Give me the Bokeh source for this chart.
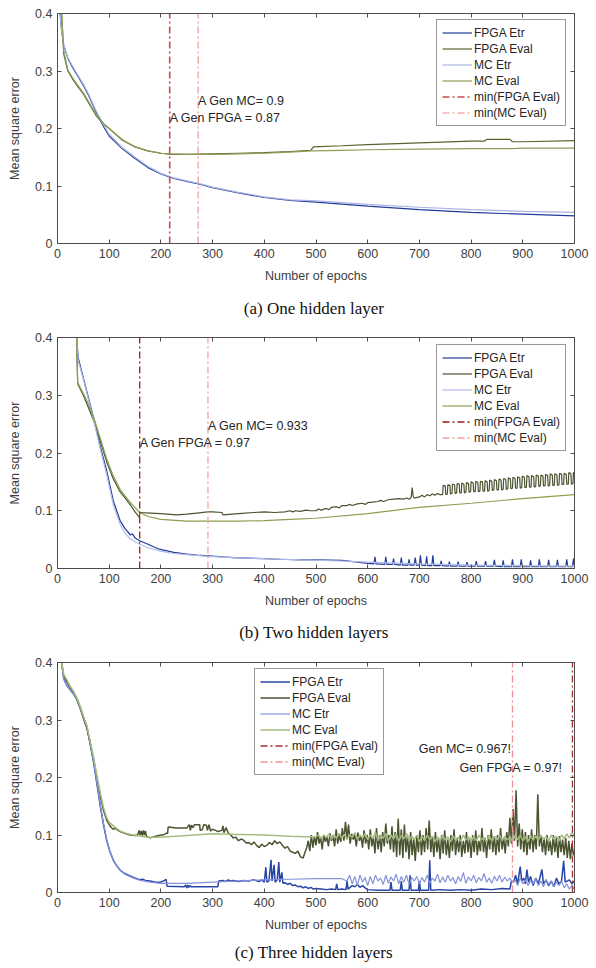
from bokeh.plotting import figure
from bokeh.models import LinearAxis, Range1d, Label, Title
from bokeh.layouts import column
from bokeh.embed import file_html
from bokeh.resources import INLINE

# ---------------- data: panel (a) one hidden layer ----------------
a_etr_ep = [5, 8, 12, 20, 30, 40, 50, 60, 75, 90, 100, 125, 150, 175, 200, 225, 250, 275, 300, 350, 400, 450, 500, 600, 700, 800, 900, 1000]
a_fpga_etr = [0.40, 0.37, 0.345, 0.322, 0.305, 0.29, 0.275, 0.258, 0.228, 0.202, 0.187, 0.165, 0.148, 0.132, 0.121, 0.113, 0.108, 0.103, 0.097, 0.088, 0.080, 0.075, 0.072, 0.065, 0.059, 0.054, 0.051, 0.048]
a_mc_etr = [0.40, 0.37, 0.345, 0.323, 0.307, 0.292, 0.277, 0.26, 0.23, 0.205, 0.19, 0.167, 0.15, 0.134, 0.122, 0.114, 0.109, 0.104, 0.098, 0.089, 0.081, 0.076, 0.074, 0.068, 0.063, 0.059, 0.056, 0.054]
a_eval_ep = [8, 12, 20, 30, 40, 50, 60, 75, 90, 100, 125, 150, 175, 200, 220, 250, 300, 350, 400, 450, 490, 495, 550, 600, 700, 800, 825, 830, 875, 880, 900, 1000]
a_fpga_eval = [0.40, 0.33, 0.30, 0.285, 0.272, 0.26, 0.245, 0.222, 0.207, 0.2, 0.18, 0.168, 0.161, 0.157, 0.155, 0.155, 0.156, 0.157, 0.158, 0.16, 0.162, 0.168, 0.17, 0.172, 0.175, 0.178, 0.178, 0.181, 0.181, 0.177, 0.177, 0.179]
a_mc_eval = [0.40, 0.335, 0.302, 0.287, 0.274, 0.262, 0.247, 0.224, 0.208, 0.2, 0.181, 0.168, 0.161, 0.157, 0.156, 0.155, 0.155, 0.156, 0.157, 0.159, 0.161, 0.161, 0.162, 0.163, 0.164, 0.165, 0.165, 0.165, 0.165, 0.165, 0.166, 0.166]
a_min_fpga = 217
a_min_mc = 272
a_gen_fpga = "A Gen FPGA = 0.87"
a_gen_mc = "A Gen MC= 0.9"

# ---------------- data: panel (b) two hidden layers ----------------
b_fpga_etr_ep = [37, 40, 50, 60, 70, 83, 95, 108, 121, 130, 141, 145, 150, 159, 175, 190, 199, 225, 250, 270, 291, 320, 340, 370, 400, 430, 470, 500, 550, 580, 600,
                 612, 614, 616, 633, 635, 637, 648, 650, 652, 663, 665, 667, 678, 680, 682, 690, 692, 694, 700, 702, 704, 712, 714, 716, 724, 726, 728, 740, 742, 744,
                 756, 758, 760, 773, 775, 777, 790, 792, 794, 808, 810, 812, 826, 828, 830, 843, 845, 847, 860, 862, 864, 878, 880, 882, 895, 897, 899, 913, 915, 917,
                 930, 932, 934, 948, 950, 952, 965, 967, 969, 983, 985, 987, 996, 998, 1000]
b_fpga_etr = [0.40, 0.365, 0.33, 0.295, 0.26, 0.21, 0.17, 0.117, 0.083, 0.07, 0.058, 0.06, 0.053, 0.048, 0.042, 0.036, 0.033, 0.028, 0.025, 0.023, 0.022, 0.02, 0.019, 0.018, 0.017, 0.016, 0.015, 0.015, 0.014, 0.011, 0.009,
              0.008, 0.02, 0.008, 0.007, 0.02, 0.007, 0.007, 0.017, 0.007, 0.006, 0.019, 0.006, 0.006, 0.016, 0.006, 0.006, 0.019, 0.006, 0.006, 0.023, 0.006, 0.005, 0.021, 0.005, 0.005, 0.023, 0.005, 0.005, 0.013, 0.005,
              0.004, 0.012, 0.004, 0.004, 0.012, 0.004, 0.004, 0.011, 0.004, 0.004, 0.013, 0.004, 0.004, 0.013, 0.004, 0.004, 0.015, 0.004, 0.003, 0.014, 0.003, 0.003, 0.016, 0.003, 0.003, 0.016, 0.003, 0.003, 0.014, 0.003,
              0.003, 0.016, 0.003, 0.003, 0.015, 0.003, 0.003, 0.015, 0.003, 0.003, 0.016, 0.003, 0.003, 0.017, 0.003]
b_mc_etr_ep = [37, 40, 50, 60, 70, 83, 95, 108, 121, 130, 141, 159, 175, 199, 225, 250, 291, 340, 400, 470, 550, 600, 700, 800, 900, 1000]
b_mc_etr = [0.40, 0.36, 0.328, 0.292, 0.257, 0.206, 0.163, 0.11, 0.077, 0.062, 0.051, 0.042, 0.036, 0.03, 0.026, 0.024, 0.021, 0.019, 0.017, 0.015, 0.013, 0.011, 0.008, 0.006, 0.005, 0.004]
b_fpga_eval_ep = [37, 39, 50, 57, 70, 83, 95, 108, 121, 141, 150, 158, 160, 180, 200, 230, 250, 270, 290, 300, 318, 320, 350, 380, 400, 420, 440, 450, 455, 460, 470, 480, 490, 500,
                  505, 510, 520, 525, 530, 540, 545, 550, 560, 565, 570, 580, 590, 595, 600, 610, 620, 625, 630, 640, 650, 660, 670, 675, 680, 684, 686, 688, 690, 700,
                  705, 710, 715, 720, 725, 730, 735, 740,
                  745, 746, 750, 751, 754, 755, 759, 760, 763, 764, 768, 769, 772, 773, 777, 778, 781, 782, 786, 787, 790, 791, 795, 796, 799, 800, 804, 805,
                  808, 809, 813, 814, 817, 818, 822, 823, 826, 827, 831, 832, 835, 836, 840, 841, 844, 845, 849, 850, 853, 854, 858, 859, 862, 863, 867, 868,
                  871, 872, 876, 877, 880, 881, 885, 886, 889, 890, 894, 895, 898, 899, 903, 904, 907, 908, 912, 913, 916, 917, 921, 922, 925, 926, 930, 931,
                  934, 935, 939, 940, 943, 944, 948, 949, 952, 953, 957, 958, 961, 962, 966, 967, 970, 971, 975, 976, 979, 980, 984, 985, 988, 989, 993, 994,
                  997, 998, 1000]
b_fpga_eval = [0.40, 0.32, 0.3, 0.285, 0.256, 0.22, 0.185, 0.155, 0.133, 0.11, 0.098, 0.089, 0.097, 0.096, 0.095, 0.093, 0.094, 0.096, 0.098, 0.098, 0.097, 0.093, 0.095, 0.097, 0.098, 0.097, 0.098, 0.1, 0.098, 0.1, 0.099, 0.101, 0.1, 0.1,
               0.103, 0.101, 0.104, 0.102, 0.106, 0.107, 0.105, 0.109, 0.109, 0.111, 0.109, 0.112, 0.113, 0.111, 0.114, 0.115, 0.116, 0.118, 0.116, 0.119, 0.12, 0.121, 0.12, 0.122, 0.12, 0.123, 0.14, 0.125, 0.122, 0.124,
               0.127, 0.124, 0.128, 0.126, 0.129, 0.127, 0.13, 0.128,
               0.128, 0.144, 0.143, 0.128, 0.129, 0.145, 0.144, 0.129, 0.130, 0.146, 0.145, 0.130, 0.131, 0.147, 0.146, 0.131, 0.131, 0.148, 0.146, 0.131, 0.132, 0.149, 0.147, 0.132, 0.133, 0.150, 0.148, 0.133,
               0.133, 0.151, 0.149, 0.133, 0.134, 0.151, 0.150, 0.134, 0.134, 0.152, 0.150, 0.134, 0.135, 0.153, 0.151, 0.135, 0.136, 0.154, 0.152, 0.136, 0.136, 0.155, 0.153, 0.136, 0.137, 0.156, 0.154, 0.137,
               0.138, 0.157, 0.155, 0.138, 0.139, 0.158, 0.156, 0.139, 0.139, 0.159, 0.157, 0.139, 0.140, 0.160, 0.158, 0.140, 0.141, 0.161, 0.159, 0.141, 0.141, 0.161, 0.159, 0.141, 0.142, 0.162, 0.160, 0.142,
               0.143, 0.162, 0.160, 0.143, 0.143, 0.163, 0.161, 0.143, 0.144, 0.164, 0.162, 0.144, 0.144, 0.164, 0.162, 0.144, 0.145, 0.165, 0.163, 0.145, 0.146, 0.165, 0.163, 0.146, 0.146, 0.166, 0.164, 0.146,
               0.147, 0.166, 0.165]
b_mc_eval_ep = [37, 39, 50, 57, 70, 83, 95, 108, 121, 141, 159, 175, 200, 250, 291, 350, 400, 450, 500, 600, 700, 800, 900, 1000]
b_mc_eval = [0.40, 0.322, 0.303, 0.29, 0.262, 0.225, 0.19, 0.16, 0.137, 0.114, 0.097, 0.09, 0.085, 0.082, 0.082, 0.082, 0.083, 0.085, 0.087, 0.095, 0.106, 0.113, 0.121, 0.128]
b_min_fpga = 159
b_min_mc = 291
b_gen_fpga = "A Gen FPGA = 0.97"
b_gen_mc = "A Gen MC= 0.933"

# ---------------- data: panel (c) three hidden layers ----------------
c_fpga_etr_ep = [8, 12, 18, 25, 31, 38, 44, 50, 57, 63, 70, 76, 83, 89, 95, 101, 108, 115, 121, 130, 147, 160, 165, 170, 179, 190, 199, 205, 210, 212, 245, 248, 250, 252, 254, 256, 258, 310,
                 312, 320, 325, 330, 335, 340, 350, 360, 370, 380, 390, 395, 400, 403, 405, 409, 413, 415, 419, 421, 425, 428, 430, 434, 436, 440, 445, 450, 455, 460, 465, 470, 475, 480, 485, 490, 495, 500,
                 510, 520, 530, 538, 540, 542, 550, 558, 560, 562, 570, 575, 580, 585, 590, 595, 600, 620, 643, 645, 647, 663, 665, 667, 680, 682, 684, 698, 700, 702, 718, 720, 722, 740, 760, 780, 800, 820, 840, 860, 875,
                 878, 882, 886, 890, 895, 898, 902, 905, 908, 911, 915, 920, 925, 930, 937, 940, 945, 950, 955, 960, 965, 970, 975, 979, 982, 990, 995, 1000]
c_fpga_etr = [0.40, 0.372, 0.36, 0.352, 0.345, 0.335, 0.322, 0.305, 0.287, 0.26, 0.225, 0.19, 0.149, 0.118, 0.091, 0.072, 0.056, 0.046, 0.039, 0.033, 0.026, 0.022, 0.023, 0.021, 0.02, 0.018, 0.018, 0.02, 0.023, 0.011, 0.01, 0.013, 0.008, 0.013, 0.009, 0.012, 0.01, 0.01,
              0.02, 0.021, 0.019, 0.022, 0.02, 0.021, 0.019, 0.021, 0.02, 0.022, 0.019, 0.022, 0.018, 0.044, 0.018, 0.02, 0.057, 0.02, 0.048, 0.018, 0.022, 0.053, 0.018, 0.035, 0.016, 0.017, 0.014, 0.016, 0.012, 0.013, 0.01, 0.011, 0.008, 0.01, 0.007, 0.009, 0.006, 0.007,
              0.006, 0.005, 0.006, 0.005, 0.015, 0.005, 0.006, 0.005, 0.02, 0.006, 0.012, 0.01, 0.014, 0.009, 0.012, 0.008, 0.005, 0.004, 0.004, 0.018, 0.004, 0.004, 0.02, 0.004, 0.004, 0.03, 0.004, 0.004, 0.02, 0.004, 0.004, 0.056, 0.004, 0.005, 0.004, 0.005, 0.004, 0.006, 0.005, 0.007, 0.006,
              0.02, 0.018, 0.03, 0.015, 0.045, 0.02, 0.025, 0.015, 0.04, 0.018, 0.028, 0.012, 0.025, 0.015, 0.04, 0.015, 0.022, 0.012, 0.02, 0.01, 0.025, 0.015, 0.02, 0.055, 0.018, 0.022, 0.015, 0.02]
c_mc_etr_ep = [8, 12, 18, 25, 31, 38, 44, 50, 57, 63, 70, 76, 83, 89, 95, 101, 108, 115, 121, 130, 147, 160, 179, 199, 250, 300, 350, 400, 450, 500, 550,
               560, 565, 570, 575, 580, 585, 590, 595, 600, 605, 610, 615, 620, 625, 630, 635, 640, 645, 650, 655, 660, 665, 670, 675, 680, 685, 690, 695, 700,
               705, 710, 715, 720, 725, 730, 735, 740, 745, 750, 755, 760, 765, 770, 775, 780, 785, 790, 795, 800, 805, 810, 815, 820, 825, 830, 835, 840, 845, 850,
               855, 860, 865, 870, 875, 880, 885, 890, 895, 900, 905, 910, 915, 920, 925, 930, 935, 940, 945, 950, 955, 960, 965, 970, 975, 980, 985, 990, 995, 1000]
c_mc_etr = [0.40, 0.372, 0.36, 0.352, 0.345, 0.336, 0.323, 0.306, 0.289, 0.262, 0.227, 0.192, 0.151, 0.12, 0.093, 0.073, 0.057, 0.046, 0.039, 0.032, 0.025, 0.021, 0.018, 0.016, 0.016, 0.018, 0.02, 0.022, 0.023, 0.024, 0.024,
            0.02, 0.03, 0.015, 0.028, 0.012, 0.03, 0.018, 0.026, 0.012, 0.028, 0.015, 0.03, 0.02, 0.025, 0.014, 0.03, 0.016, 0.027, 0.02, 0.032, 0.015, 0.028, 0.018, 0.03, 0.014, 0.026, 0.02, 0.028, 0.015,
            0.026, 0.018, 0.03, 0.016, 0.025, 0.02, 0.032, 0.017, 0.027, 0.018, 0.03, 0.02, 0.026, 0.015, 0.028, 0.019, 0.035, 0.016, 0.027, 0.02, 0.03, 0.017, 0.026, 0.02, 0.033, 0.018, 0.025, 0.016, 0.028, 0.02,
            0.03, 0.018, 0.027, 0.02, 0.025, 0.018, 0.022, 0.012, 0.025, 0.015, 0.022, 0.012, 0.02, 0.015, 0.024, 0.012, 0.02, 0.01, 0.022, 0.014, 0.02, 0.01, 0.018, 0.012, 0.02, 0.008, 0.015, 0.006, 0.012, 0.005]
c_fpga_eval_ep = [8, 12, 18, 25, 31, 38, 44, 50, 57, 63, 70, 76, 83, 89, 95, 100, 104, 108, 112, 116, 121, 130, 140, 150, 155, 158, 160, 162, 164, 166, 168, 170, 172, 176, 180, 190, 200, 205, 210, 213, 214, 230, 250,
                  255, 257, 259, 262, 265, 275, 276, 280, 283, 288, 290, 293, 296, 300, 306, 310, 318, 320, 322, 326, 330, 335, 340, 345, 350, 355, 360, 365, 370, 375, 380, 385, 390, 395, 400,
                  405, 410, 415, 420, 425, 430, 435, 440, 445, 450, 455, 460, 465, 470, 475, 478, 482, 485, 488, 491, 494, 497, 500, 503, 506, 509, 512, 515, 518, 521, 524, 527, 530, 533, 536, 539,
                  542, 545, 548, 551, 554, 557, 560, 563, 566, 569, 572, 575, 578, 581, 584, 587, 590, 593, 596, 599, 602, 605, 608, 611, 614, 617, 620, 623, 626, 629, 632, 635, 638, 641, 644,
                  647, 650, 653, 656, 659, 662, 665, 668, 671, 674, 677, 680, 683, 686, 689, 692, 695, 698, 701, 704, 707, 710, 713, 716, 719, 722, 725, 728, 731, 734, 737, 740, 743, 746, 749,
                  752, 755, 758, 761, 764, 767, 770, 773, 776, 779, 782, 785, 788, 791, 794, 797, 800, 803, 806, 809, 812, 815, 818, 821, 824, 827, 830, 833, 836, 839, 842, 845, 848, 851, 854,
                  857, 860, 863, 866, 869, 872, 875, 878, 881, 884, 887, 890, 893, 896, 899, 902, 905, 908, 911, 914, 917, 920, 923, 926, 929, 932, 935, 938, 941, 944, 947, 950, 953, 956, 959,
                  962, 965, 968, 971, 974, 977, 980, 983, 986, 989, 992, 995, 998, 1000]
c_fpga_eval = [0.40, 0.375, 0.367, 0.356, 0.348, 0.335, 0.32, 0.303, 0.285, 0.26, 0.23, 0.2, 0.167, 0.143, 0.126, 0.118, 0.113, 0.11, 0.112, 0.109, 0.106, 0.103, 0.1, 0.099, 0.1, 0.108, 0.1, 0.107, 0.099, 0.108, 0.1, 0.107, 0.098, 0.096, 0.095, 0.098, 0.1, 0.1, 0.103, 0.103, 0.114, 0.112, 0.112,
               0.118, 0.108, 0.117, 0.113, 0.118, 0.118, 0.108, 0.109, 0.118, 0.117, 0.108, 0.118, 0.107, 0.11, 0.108, 0.106, 0.108, 0.116, 0.104, 0.113, 0.104, 0.1, 0.095, 0.096, 0.09, 0.093, 0.091, 0.086, 0.087, 0.083, 0.088, 0.082, 0.078, 0.084, 0.08,
               0.082, 0.087, 0.083, 0.09, 0.085, 0.088, 0.082, 0.077, 0.08, 0.072, 0.07, 0.068, 0.072, 0.062, 0.06, 0.068, 0.078, 0.09, 0.072, 0.1, 0.078, 0.098, 0.082, 0.105, 0.085, 0.096, 0.075, 0.1, 0.088, 0.097, 0.08, 0.103, 0.09, 0.099, 0.08, 0.11,
               0.085, 0.1, 0.088, 0.112, 0.09, 0.123, 0.095, 0.118, 0.085, 0.102, 0.092, 0.1, 0.08, 0.104, 0.09, 0.098, 0.078, 0.108, 0.085, 0.1, 0.075, 0.11, 0.08, 0.097, 0.068, 0.112, 0.075, 0.1, 0.07, 0.105, 0.08, 0.12, 0.085, 0.1, 0.075,
               0.115, 0.07, 0.105, 0.062, 0.128, 0.065, 0.11, 0.06, 0.118, 0.07, 0.1, 0.058, 0.105, 0.065, 0.095, 0.055, 0.1, 0.07, 0.108, 0.065, 0.1, 0.07, 0.112, 0.075, 0.125, 0.07, 0.098, 0.062, 0.105, 0.07, 0.095, 0.058, 0.1, 0.068, 0.108,
               0.065, 0.092, 0.06, 0.1, 0.072, 0.11, 0.065, 0.095, 0.07, 0.1, 0.062, 0.09, 0.068, 0.105, 0.07, 0.095, 0.06, 0.1, 0.07, 0.108, 0.065, 0.09, 0.072, 0.112, 0.07, 0.095, 0.06, 0.1, 0.075, 0.11, 0.07, 0.098, 0.065, 0.1, 0.07,
               0.112, 0.075, 0.095, 0.068, 0.105, 0.08, 0.13, 0.085, 0.145, 0.09, 0.178, 0.08, 0.12, 0.075, 0.11, 0.07, 0.105, 0.065, 0.1, 0.075, 0.11, 0.07, 0.1, 0.075, 0.171, 0.08, 0.1, 0.07, 0.095, 0.065, 0.1, 0.072, 0.09, 0.065, 0.1,
               0.07, 0.095, 0.06, 0.098, 0.07, 0.092, 0.065, 0.095, 0.06, 0.09, 0.058, 0.085, 0.065, 0.07]
c_mc_eval_ep = [8, 12, 18, 25, 31, 38, 44, 50, 57, 63, 70, 76, 83, 89, 95, 100, 108, 121, 135, 150, 175, 200, 250, 300, 350, 400, 450, 480,
                500, 505, 510, 515, 520, 525, 530, 535, 540, 545, 550, 555, 560, 565, 570, 575, 580, 585, 590, 595, 600, 605, 610, 615, 620, 625, 630, 635, 640, 645, 650,
                655, 660, 665, 670, 675, 680, 685, 690, 695, 700, 705, 710, 715, 720, 725, 730, 735, 740, 745, 750, 755, 760, 765, 770, 775, 780, 785, 790, 795, 800,
                805, 810, 815, 820, 825, 830, 835, 840, 845, 850, 855, 860, 865, 870, 875, 880, 885, 890, 895, 900, 905, 910, 915, 920, 925, 930, 935, 940, 945, 950,
                955, 960, 965, 970, 975, 980, 985, 990, 995, 1000]
c_mc_eval = [0.40, 0.38, 0.37, 0.358, 0.35, 0.338, 0.323, 0.307, 0.289, 0.264, 0.235, 0.205, 0.172, 0.148, 0.13, 0.122, 0.116, 0.107, 0.102, 0.099, 0.096, 0.096, 0.099, 0.102, 0.101, 0.1, 0.098, 0.097,
             0.097, 0.1, 0.094, 0.1, 0.096, 0.102, 0.093, 0.1, 0.095, 0.103, 0.094, 0.101, 0.092, 0.1, 0.096, 0.104, 0.093, 0.1, 0.095, 0.103, 0.092, 0.1, 0.094, 0.105, 0.09, 0.1, 0.094, 0.103, 0.09, 0.1, 0.093,
             0.102, 0.089, 0.099, 0.093, 0.103, 0.09, 0.098, 0.092, 0.1, 0.088, 0.098, 0.09, 0.1, 0.092, 0.098, 0.088, 0.097, 0.09, 0.1, 0.091, 0.097, 0.088, 0.099, 0.09, 0.096, 0.089, 0.1, 0.091, 0.097, 0.088,
             0.098, 0.09, 0.1, 0.092, 0.096, 0.088, 0.099, 0.09, 0.097, 0.092, 0.1, 0.09, 0.098, 0.091, 0.097, 0.089, 0.099, 0.092, 0.1, 0.09, 0.097, 0.088, 0.099, 0.091, 0.098, 0.09, 0.1, 0.092, 0.097, 0.089,
             0.1, 0.093, 0.098, 0.09, 0.1, 0.094, 0.102, 0.095, 0.104, 0.1]
c_min_fpga = 996
c_min_mc = 880
c_gen_fpga = "Gen FPGA = 0.97!"
c_gen_mc = "Gen MC= 0.967!"

x_ticks = [0, 100, 200, 300, 400, 500, 600, 700, 800, 900, 1000]
y_ticks = [0, 0.1, 0.2, 0.3, 0.4]
legend_names = ["FPGA Etr", "FPGA Eval", "MC Etr", "MC Eval", "min(FPGA Eval)", "min(MC Eval)"]
captions = ["(a)  One hidden layer", "(b)  Two hidden layers", "(c)  Three hidden layers"]

FONT = "Liberation Sans"
AX = "#4d4d4d"
TXT = "#404040"


def make_panel(height, top, bottom, caption, cap_standoff, series, colors, widths, mins, min_colors, min_widths,
               texts, text_align, legend_xy):
    p = figure(width=596, height=height, x_range=Range1d(0, 1000), y_range=Range1d(0, 0.4),
               output_backend="svg", toolbar_location=None,
               min_border_left=57, min_border_right=22, min_border_top=top, min_border_bottom=bottom,
               x_axis_label="Number of epochs", y_axis_label="Mean square error")
    p.xgrid.visible = False
    p.ygrid.visible = False
    p.outline_line_color = AX
    p.background_fill_color = "white"
    p.border_fill_color = "white"

    xax = p.below[0]
    yax = p.left[0]

    for i, (xs, ys) in enumerate(series):
        p.line(xs, ys, line_color=colors[i], line_width=widths[i], legend_label=legend_names[i])
    for j, m in enumerate(mins):
        p.line([m, m], [0, 0.4], line_color=min_colors[j], line_width=min_widths[j],
               line_dash="7 3 2 3", legend_label=legend_names[4 + j])

    xax.ticker = x_ticks
    yax.ticker = y_ticks
    yax.major_label_overrides = {0: "0"}

    top_ax = LinearAxis(ticker=x_ticks, major_label_text_color=None, major_label_standoff=0)
    right_ax = LinearAxis(ticker=y_ticks, major_label_text_color=None, major_label_standoff=0)
    p.add_layout(top_ax, "above")
    p.add_layout(right_ax, "right")

    for ax in [xax, yax, top_ax, right_ax]:
        ax.major_tick_in = 4
        ax.major_tick_out = 0
        ax.minor_tick_in = 0
        ax.minor_tick_out = 0
        ax.axis_line_color = AX
        ax.major_tick_line_color = AX
    for ax in [xax, yax]:
        ax.major_label_text_color = TXT
        ax.major_label_text_font = FONT
        ax.major_label_text_font_size = "12.5px"
        ax.major_label_standoff = 5
        ax.axis_label_text_font = FONT
        ax.axis_label_text_color = TXT
        ax.axis_label_text_font_style = "normal"
        ax.axis_label_text_font_size = "12.5px"
    xax.axis_label_standoff = 8
    yax.axis_label_standoff = 10

    for (tx, ty, t) in texts:
        p.add_layout(Label(x=tx, y=ty, text=t, text_font=FONT, text_font_size="12.5px",
                           text_color="#262626", text_baseline="middle", text_align=text_align))

    lg = p.legend[0]
    lg.location = legend_xy
    lg.label_text_font = FONT
    lg.label_text_font_size = "12px"
    lg.label_text_color = "#262626"
    lg.glyph_width = 30
    lg.glyph_height = 15
    lg.label_height = 15
    lg.spacing = 1
    lg.padding = 5
    lg.margin = 0
    lg.label_standoff = 2
    lg.border_line_color = "#333333"
    lg.border_line_width = 1
    lg.background_fill_alpha = 1

    p.add_layout(Title(text=caption, align="center", text_font="Liberation Serif",
                       text_font_size="17px", text_font_style="normal", text_color="#111111",
                       offset=-17, standoff=cap_standoff), "below")
    return p


pa = make_panel(
    328, 13, 85, captions[0], 22,
    [(a_etr_ep, a_fpga_etr), (a_eval_ep, a_fpga_eval), (a_etr_ep, a_mc_etr), (a_eval_ep, a_mc_eval)],
    ["#1f3c98", "#56652f", "#aab3e2", "#8d9d55"], [1.2, 1.2, 1.2, 1.2],
    [a_min_fpga, a_min_mc], ["#c0504d", "#ee8a8a"], [1.6, 1.1],
    [(a_min_fpga, 0.219, a_gen_fpga), (a_min_mc, 0.248, a_gen_mc)], "left", (379, 117))

pb = make_panel(
    324, 9, 84, captions[1], 21,
    [(b_fpga_etr_ep, b_fpga_etr), (b_fpga_eval_ep, b_fpga_eval), (b_mc_etr_ep, b_mc_etr), (b_mc_eval_ep, b_mc_eval)],
    ["#1f3c98", "#4a5430", "#b2bae6", "#8aa050"], [1.2, 1.2, 1.2, 1.2],
    [b_min_fpga, b_min_mc], ["#9a1c1c", "#f4a0a8"], [1.3, 1.3],
    [(b_min_fpga, 0.217, b_gen_fpga), (b_min_mc, 0.247, b_gen_mc)], "left", (379, 117))

pc = make_panel(
    316, 10, 76, captions[2], 13,
    [(c_fpga_etr_ep, c_fpga_etr), (c_fpga_eval_ep, c_fpga_eval), (c_mc_etr_ep, c_mc_etr), (c_mc_eval_ep, c_mc_eval)],
    ["#2846a6", "#4a5430", "#8592da", "#a6bc80"], [1.5, 1.5, 1.2, 1.5],
    [c_min_fpga, c_min_mc], ["#a83030", "#f09098"], [1.3, 1.3],
    [(977, 0.217, c_gen_fpga), (877, 0.249, c_gen_mc)], "right", (197, 117))

layout = column(pa, pb, pc, spacing=0)
open("out.html", "w").write(file_html(layout, INLINE))
